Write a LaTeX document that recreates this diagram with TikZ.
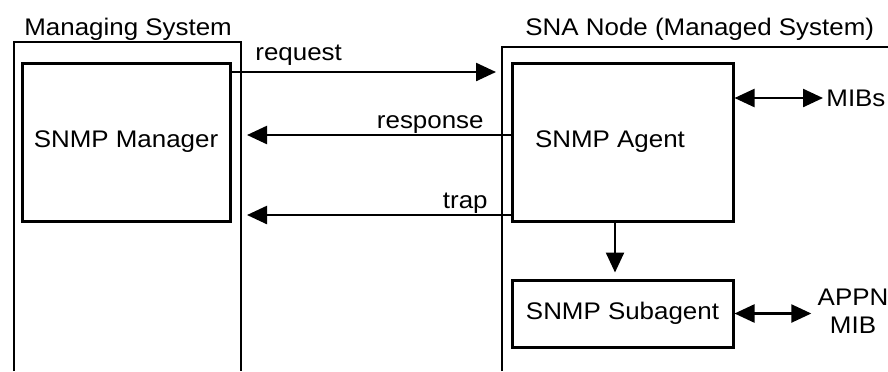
\documentclass[tikz,border=0pt]{standalone}
\usepackage{fontspec}
\setmainfont{Liberation Sans}[FakeStretch=1.08]
\usetikzlibrary{arrows.meta,positioning}
\tikzset{
  >={Triangle[length=10pt,width=9pt]},
  box/.style={draw,line width=1.5pt,minimum width=110.5pt,minimum height=79pt},
  frame/.style={line width=1.4pt},
  msg/.style={->,line width=1.2pt,shorten >=3pt},
  lbl/.style={inner sep=0pt}
}
\begin{document}
\begin{tikzpicture}[x=0.5pt,y=-0.5pt,font=\fontsize{12pt}{14pt}\selectfont]
  \useasboundingbox (0,0) rectangle (888,371);
  \draw[frame] (14,371) |- (241,42) -- (241,371);
  \draw[frame] (502,371) |- (888,47);
  \coordinate (ms) at (241,42);
  \coordinate (sna) at (502,47);
  \node[lbl,anchor=base west] (msname) at (24,35) {Managing System};
  \node[lbl,anchor=base west] (snaname) at (525,35) {SNA Node (Managed System)};
  \node[box,minimum width=104pt] (mgr) at (126,142) {SNMP Manager};
  \node[box] (agent) at (622.5,142) {};
  \node[lbl] (agentname) at (610,142) {SNMP Agent};
  \node[box,minimum height=33.5pt,below=28pt of agent] (sub) {SNMP Subagent};
  \node[lbl,anchor=west] (mibs) at (826,98) {MIBs};
  \node[lbl,align=center] (appn) at (853,311) {APPN\\MIB};
  \coordinate (req) at (0,72);
  \coordinate (resp) at (0,135);
  \coordinate (trap) at (0,215);
  \draw[msg] (mgr.east |- req) -- (sna |- req);
  \draw[msg] (agent.west |- resp) -- (ms |- resp);
  \draw[msg] (agent.west |- trap) -- (ms |- trap);
  \draw[msg] ([xshift=-3.75pt]agent.south) -- ([xshift=-3.75pt]sub.north);
  \draw[msg,<->,shorten >=1.5pt] (agent.east |- mibs) -- (mibs.west);
  \draw[msg,<->] (sub.east) -- (appn.west |- sub.east);
  \node[lbl,anchor=base west] (reqlbl) at (255,60) {request};
  \node[lbl,anchor=base east] (resplbl) at (484,128) {response};
  \node[lbl,anchor=base east] (traplbl) at (488,208) {trap};
\end{tikzpicture}
\end{document}
